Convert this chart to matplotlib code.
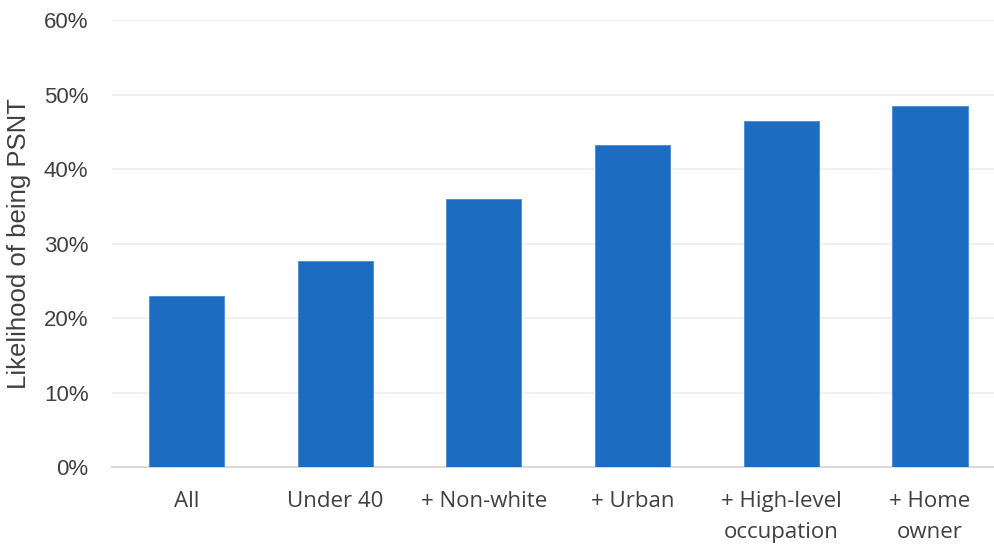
import matplotlib.pyplot as plt
from matplotlib.ticker import PercentFormatter

categories = ["All", "Under 40", "+ Non-white", "+ Urban", "+ High-level\noccupation", "+ Home\nowner"]
likelihood = [22.9, 27.6, 36.0, 43.2, 46.5, 48.4]
y_ticks = [0, 10, 20, 30, 40, 50, 60]

bar_color = "#1C6DC2"
text_color = "#404040"

fig = plt.figure(figsize=(9.94, 5.45), dpi=100)
ax = fig.add_axes([0.1127, 0.1431, 0.8873, 0.8202])

x = range(len(categories))
ax.bar(x, likelihood, width=0.505, color=bar_color, edgecolor="#4A8AD0", linewidth=0.6, zorder=3)

ax.set_ylim(0, 60)
ax.set_xlim(-0.5, 5.43)
ax.set_yticks(y_ticks)
ax.yaxis.set_major_formatter(PercentFormatter(decimals=0))
ax.set_xticks(list(x))
ax.set_xticklabels(categories, fontsize=16, color=text_color, family="Open Sans", linespacing=1.65)

for lbl in ax.get_yticklabels():
    lbl.set_fontsize(16)
    lbl.set_color(text_color)
    lbl.set_family("Liberation Sans")

ax.grid(axis="y", color="#EEEEEE", linewidth=1.2, zorder=0)
ax.tick_params(axis="both", length=0)
ax.tick_params(axis="y", pad=17)
ax.tick_params(axis="x", pad=17)

for side in ["top", "right", "left"]:
    ax.spines[side].set_visible(False)
ax.spines["bottom"].set_color("#D9D9D9")
ax.spines["bottom"].set_linewidth(1.5)

ax.set_ylabel("Likelihood of being PSNT", fontsize=18.5, color=text_color, family="Liberation Sans", labelpad=9)

fig.savefig("out.png", dpi=100)
